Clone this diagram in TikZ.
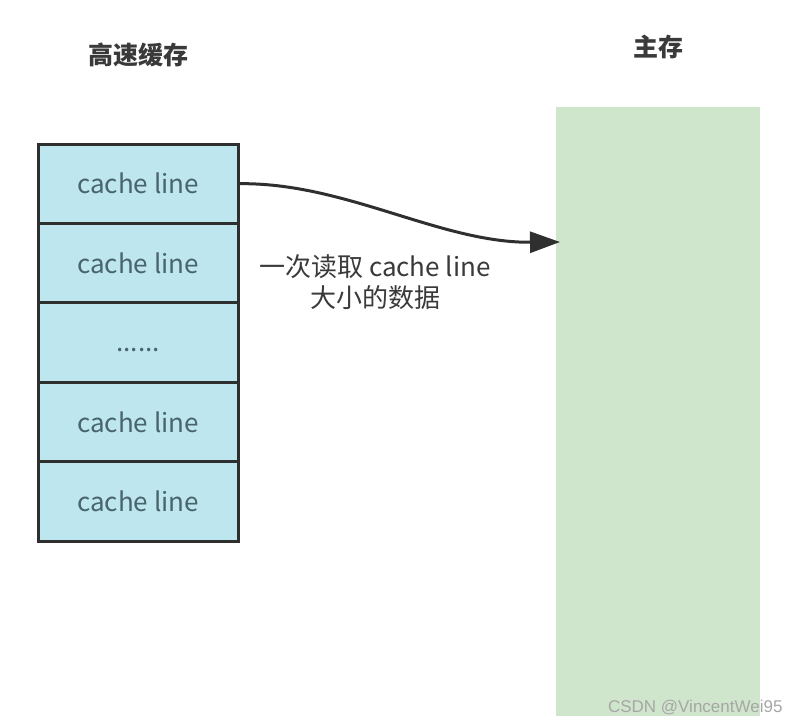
\documentclass[tikz,border=0pt]{standalone}
\usepackage{fontspec}
\setmainfont{Noto Sans CJK SC}
\newfontfamily\wmfont{Liberation Sans}
\usepackage{xcolor}
\usepackage{tikz}
\usetikzlibrary{arrows.meta,positioning}
\definecolor{cachefill}{HTML}{BDE6EE}
\definecolor{cachetext}{HTML}{4A646B}
\definecolor{memfill}{HTML}{D0E6CC}
\definecolor{darkline}{HTML}{2F2F2F}
\definecolor{labeltext}{HTML}{3A3A3A}

\begin{document}
\begin{tikzpicture}[x=1pt, y=-1pt,
  cacheline/.style={draw=darkline, line width=3pt, fill=cachefill, minimum width=200pt, minimum height=79.4pt, outer sep=0pt, inner sep=0pt, text=cachetext, font=\fontsize{26}{30}\selectfont},
  title/.style={text=labeltext, font=\fontsize{25}{29}\selectfont\bfseries},
  arrow/.style={-{Triangle[length=30pt, width=21pt]}, line width=3pt, draw=darkline}
]
\useasboundingbox[fill=white] (0,0) rectangle (800,726);
% cache stack
\node[cacheline, anchor=north west] (line1) at (38,144) {cache line};
\node[cacheline, below=0pt of line1] (line2) {cache line};
\node[cacheline, below=0pt of line2] (dots) {\smash{\raisebox{-9pt}{......}}};
\node[cacheline, below=0pt of dots] (line3) {cache line};
\node[cacheline, below=0pt of line3] (line4) {cache line};
% main memory
\node[fill=memfill, minimum width=204pt, minimum height=609pt, inner sep=0pt, anchor=north west] (mem) at (556,107) {};
% titles
\node[title] (cachetitle) at (138,55) {高速缓存};
\node[title] (memtitle) at (658,47) {主存};
% read arrow
\coordinate (tip) at (560,242);
\draw[arrow] (line1.east) .. controls (345,182) and (440,243) .. (tip);
\node[text=labeltext, align=center, font=\fontsize{26}{31}\selectfont] (readlabel) at (375,282) {一次读取 cache line\\大小的数据};
% watermark
\node[text=gray!70, font=\wmfont\fontsize{17}{20}\selectfont, anchor=east] (mark) at (786,708) {CSDN @VincentWei95};
\end{tikzpicture}
\end{document}
